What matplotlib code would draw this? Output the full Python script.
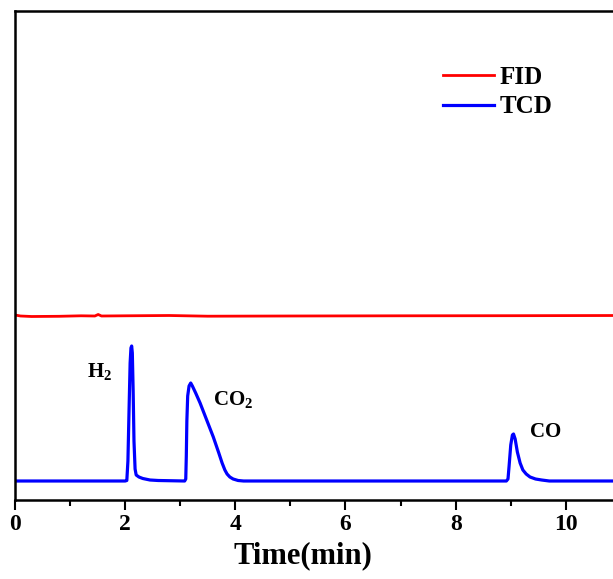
import numpy as np
import matplotlib
matplotlib.use('Agg')
from matplotlib import pyplot as plt

# TCD trace (time in min, signal in a.u.)
tcd_time = [0.0, 1.0, 2.0, 2.03, 2.05, 2.07, 2.09, 2.105, 2.118, 2.13, 2.145, 2.16, 2.18, 2.20,
            2.25, 2.32, 2.45, 2.6, 3.08, 3.10, 3.11, 3.12, 3.135, 3.16, 3.19, 3.22, 3.28, 3.36,
            3.48, 3.60, 3.70, 3.76, 3.81, 3.85, 3.90, 3.96, 4.05, 4.15, 6.0, 8.92, 8.95, 8.97,
            9.00, 9.03, 9.05, 9.08, 9.12, 9.17, 9.22, 9.28, 9.35, 9.45, 9.56, 9.7, 11.0, 12.0]
tcd_signal = [0.0, 0.0, 0.0, 0.5, 20, 70, 118, 133, 135, 128, 90, 40, 12, 6,
              4, 2.5, 1, 0.5, 0.0, 2, 25, 60, 85, 95, 98, 95, 88, 78,
              61, 44, 28, 18, 11, 7, 4, 2, 0.5, 0.0, 0.0, 0.0, 2, 15,
              36, 46, 47, 42, 29, 18, 11, 7, 4, 2, 1, 0.0, 0.0, 0.0]

# FID trace, nearly flat
fid_time = [0.0, 0.1, 0.3, 0.8, 1.2, 1.45, 1.51, 1.57, 2.0, 2.8, 3.5, 5.0, 7.0, 9.0, 11.0, 12.0]
fid_signal = [166, 165, 164.5, 164.7, 165.2, 165, 166.5, 165, 165.2, 165.5, 164.8, 165, 165.2, 165.3, 165.5, 165.5]

peak_labels = [r'H$_\mathbf{2}$', r'CO$_\mathbf{2}$', 'CO']
label_time = [1.30, 3.59, 9.35]
label_signal = [109, 81, 49]

plt.rcParams['font.family'] = 'Liberation Serif'
plt.rcParams['font.weight'] = 'bold'
plt.rcParams['mathtext.fontset'] = 'custom'
plt.rcParams['mathtext.bf'] = 'Liberation Serif:bold'
plt.rcParams['mathtext.rm'] = 'Liberation Serif:bold'

fig = plt.figure(figsize=(6.13, 5.79), dpi=100)
ax = fig.add_axes([15 / 613, 79 / 579, 661 / 613, 489 / 579])

ax.plot(fid_time, fid_signal, color='#ff0000', lw=2.0, label='FID')
ax.plot(tcd_time, tcd_signal, color='#0000ff', lw=2.3, label='TCD')

for txt, t, s in zip(peak_labels, label_time, label_signal):
    ax.text(t, s, txt, fontsize=15, fontweight='bold', ha='left', va='center')

ax.set_xlim(0, 12)
ax.set_ylim(-19, 470)
ax.set_xticks(np.arange(0, 12, 2))
ax.set_xticks(np.arange(1, 12, 2), minor=True)
ax.set_yticks([])
ax.tick_params(axis='x', which='major', direction='out', length=7, width=1.5,
               labelsize=17, pad=3)
ax.tick_params(axis='x', which='minor', direction='out', length=4, width=1.5)
for lab in ax.get_xticklabels():
    lab.set_fontweight('bold')
for sp in ax.spines.values():
    sp.set_linewidth(1.8)

ax.set_xlabel('Time(min)', fontsize=22, fontweight='bold')
ax.xaxis.set_label_coords(0.436, -0.085)
ax.xaxis.label.set_va('top')

ax.legend(loc='upper left', bbox_to_anchor=(443 / 613, (579 - 66) / 579),
          bbox_transform=fig.transFigure, frameon=False,
          handlelength=2.05, handletextpad=0.2, labelspacing=0.25,
          borderpad=0, borderaxespad=0, prop={'weight': 'bold', 'size': 18})

plt.savefig('out.png', dpi=100)
